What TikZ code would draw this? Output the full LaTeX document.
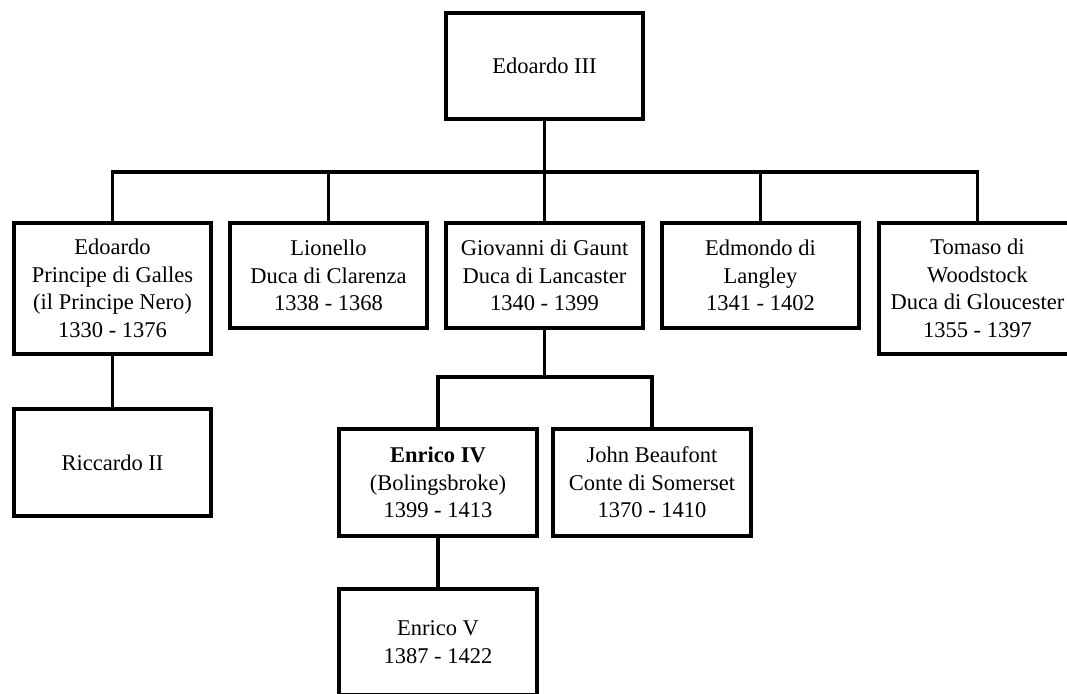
\documentclass[tikz,border=0pt]{standalone}
\usepackage{fontspec}
\setmainfont{Liberation Serif}
\begin{document}
\begin{tikzpicture}[x=1pt,y=-1pt,
  person/.style={draw=black, line width=3.6pt, fill=white, rectangle,
    minimum width=197pt, minimum height=105pt, inner sep=0pt, outer sep=0pt,
    align=center, font=\fontsize{22.5}{27.5}\selectfont},
  link/.style={draw=black, line width=3.6pt, line join=miter}]
\useasboundingbox (0,0) rectangle (1067,693);
\clip (0,0) rectangle (1067,693);
\fill[white] (0,0) rectangle (1067,693);

\node[person, minimum height=106pt] (e3) at (544.5,66) {Edoardo III};

\node[person, minimum height=131pt] (edo) at (112.5,288.5) {Edoardo\\Principe di Galles\\(il Principe Nero)\\1330 - 1376};
\node[person] (lio) at (328.5,275.5) {Lionello\\Duca di Clarenza\\1338 - 1368};
\node[person] (gio) at (544.5,275.5) {Giovanni di Gaunt\\Duca di Lancaster\\1340 - 1399};
\node[person] (edm) at (760.5,275.5) {Edmondo di\\Langley\\1341 - 1402};
\node[person, minimum height=131pt] (tom) at (977.5,288.5) {Tomaso di\\Woodstock\\Duca di Gloucester\\1355 - 1397};

\node[person, minimum height=107pt] (ric) at (112.5,462.5) {Riccardo II};

\node[person, minimum width=198pt, minimum height=107pt] (e4) at (438,482.5) {\textbf{Enrico IV}\\(Bolingsbroke)\\1399 - 1413};
\node[person, minimum width=198pt, minimum height=107pt] (john) at (652,482.5) {John Beaufont\\Conte di Somerset\\1370 - 1410};

\node[person, minimum width=198pt, minimum height=106pt] (e5) at (438,642) {Enrico V\\1387 - 1422};

\coordinate (bar1) at (544.5,172);
\coordinate (bar2) at (544.5,377);

\draw[link] (e3.south) -- (e3.south |- bar1);
\draw[link] (edo.north) |- (tom.north |- bar1) -- (tom.north);
\draw[link] (lio.north) -- (lio.north |- bar1);
\draw[link] (gio.north) -- (gio.north |- bar1);
\draw[link] (edm.north) -- (edm.north |- bar1);

\draw[link] (edo.south) -- (ric.north);

\draw[link] (gio.south) -- (gio.south |- bar2);
\draw[link] (e4.north) |- (john.north |- bar2) -- (john.north);

\draw[link] (e4.south) -- (e5.north);
\end{tikzpicture}
\end{document}
